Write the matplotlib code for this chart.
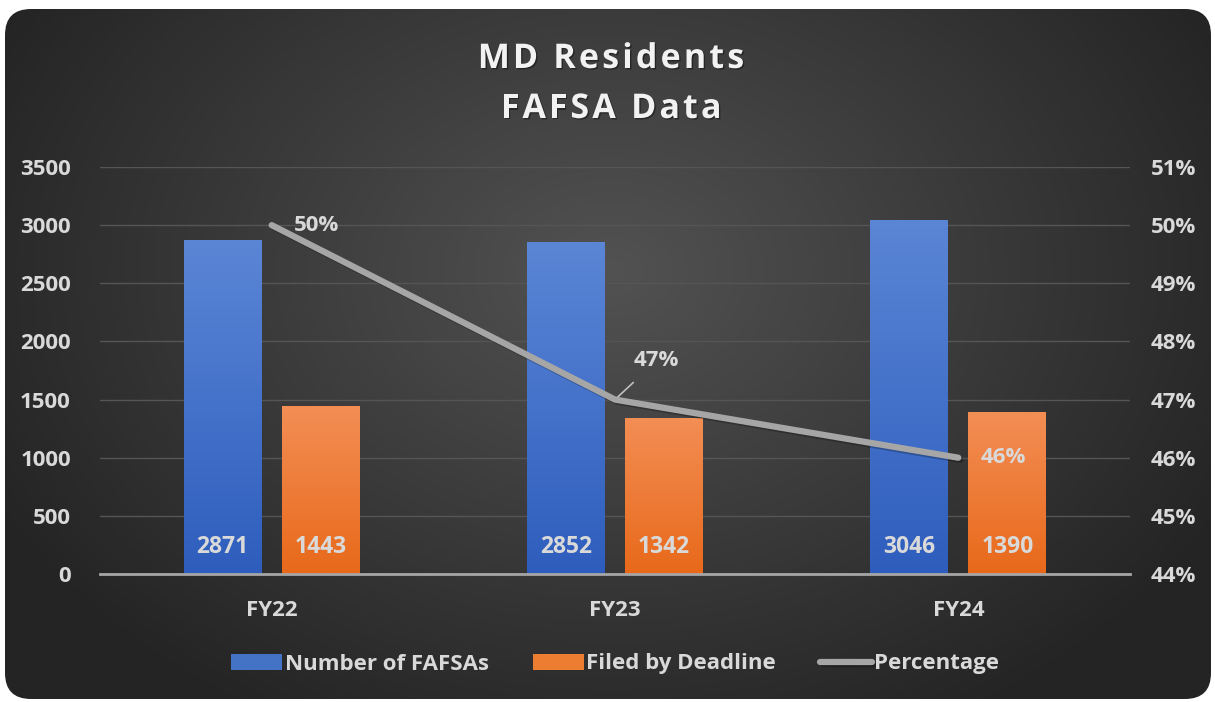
import matplotlib
matplotlib.use('Agg')
import numpy as np
import matplotlib.pyplot as plt
import matplotlib.patheffects as pe
from matplotlib.patches import FancyBboxPatch
from matplotlib.colors import LinearSegmentedColormap

categories = ['FY22', 'FY23', 'FY24']
num_fafsas = [2871, 2852, 3046]
filed_by_deadline = [1443, 1342, 1390]
percentage = [0.50, 0.47, 0.46]
pct_labels = ['50%', '47%', '46%']

plt.rcParams['font.family'] = ['Open Sans', 'DejaVu Sans']
plt.rcParams['font.weight'] = 'bold'
txt = '#d9d9d9'

W, H = 1215, 702
fig = plt.figure(figsize=(W/100, H/100), dpi=100)
fig.patch.set_facecolor('white')

# background card with radial gradient
bg = fig.add_axes([0, 0, 1, 1], zorder=-10)
bg.set_xlim(0, W); bg.set_ylim(0, H); bg.axis('off')
yy, xx = np.mgrid[0:H, 0:W]
r = np.sqrt(((xx - 610) / 700.0)**2 + ((yy - 430) / 520.0)**2)
r = np.clip(r, 0, 1)
bgcmap = LinearSegmentedColormap.from_list('bg', ['#525252', '#3b3b3b', '#242424'])
im = bg.imshow(r, cmap=bgcmap, extent=[0, W, 0, H], origin='lower', aspect='auto')
card = FancyBboxPatch((5, 3), W - 9, H - 12, boxstyle='round,pad=0,rounding_size=26',
                      transform=bg.transData, facecolor='none', edgecolor='none')
bg.add_patch(card)
im.set_clip_path(card)

ax = fig.add_axes([100/W, 1 - 574/H, 1030/W, 407/H])
ax.patch.set_alpha(0)
x = np.arange(len(categories))
bw = 0.227
off = 0.143

blue_cmap = LinearSegmentedColormap.from_list('b', ['#2e5dbd', '#5b86d6'])
orange_cmap = LinearSegmentedColormap.from_list('o', ['#e8691a', '#f38e55'])
grad = np.linspace(0, 1, 256).reshape(-1, 1)

def gradient_bars(xs, vals, cmap, label, color):
    bars = ax.bar(xs, vals, width=bw, color=color, label=label, zorder=3)
    for b in bars:
        x0, y0 = b.get_x(), b.get_y()
        gi = ax.imshow(grad, cmap=cmap, origin='lower', aspect='auto',
                       extent=[x0, x0 + b.get_width(), y0, y0 + b.get_height()], zorder=3.1)
        gi.set_clip_path(b)
    return bars

b1 = gradient_bars(x - off, num_fafsas, blue_cmap, 'Number of FAFSAs', '#4472c4')
b2 = gradient_bars(x + off, filed_by_deadline, orange_cmap, 'Filed by Deadline', '#ed7d31')

for bars, vals in [(b1, num_fafsas), (b2, filed_by_deadline)]:
    for b, v in zip(bars, vals):
        ax.text(b.get_x() + b.get_width()/2, 230, str(v), ha='center', va='center',
                color=txt, fontsize=16.5, fontweight='bold', zorder=5)

ax.set_xlim(-0.5, 2.5)
ax.set_ylim(0, 3500)
ax.set_yticks(np.arange(0, 3501, 500))
ax.set_xticks(x)
ax.set_xticklabels(categories)
ax.grid(axis='y', color='#555555', linewidth=1, zorder=0)
for s in ['top', 'right', 'left']:
    ax.spines[s].set_visible(False)
ax.spines['bottom'].set_color('#a6a6a6')
ax.spines['bottom'].set_linewidth(2)
ax.spines['bottom'].set_zorder(4)
ax.tick_params(axis='both', length=0, colors=txt, labelsize=16)
ax.tick_params(axis='y', pad=21)
ax.tick_params(axis='x', pad=19)

ax2 = ax.twinx()
ax2.set_ylim(0.44, 0.51)
ax2.set_yticks(np.arange(0.44, 0.5101, 0.01))
ax2.set_yticklabels([f'{int(round(v*100))}%' for v in np.arange(0.44, 0.5101, 0.01)])
for s in ax2.spines.values():
    s.set_visible(False)
ax2.tick_params(axis='y', length=0, colors=txt, labelsize=16, pad=15)
line, = ax2.plot(x, percentage, color='#a6a6a6', linewidth=4.5,
                 solid_capstyle='round', solid_joinstyle='round', label='Percentage', zorder=6,
                 path_effects=[pe.SimpleLineShadow(offset=(1.5, -1.5), shadow_color='black', alpha=0.25),
                               pe.Normal()])

ax2.annotate(pct_labels[0], (x[0], percentage[0]), xytext=(16, 0), textcoords='offset points',
             ha='left', va='center', color=txt, fontsize=16, fontweight='bold')
ax2.annotate(pct_labels[1], (x[1], percentage[1]), xytext=(30, 28), textcoords='offset points',
             ha='center', va='center', color=txt, fontsize=16, fontweight='bold',
             arrowprops=dict(arrowstyle='-', color='#bfbfbf', lw=1.2, shrinkA=9, shrinkB=0))
ax2.annotate(pct_labels[2], (x[2], percentage[2]), xytext=(16, 0), textcoords='offset points',
             ha='left', va='center', color=txt, fontsize=16, fontweight='bold')

handles = [b1, b2, line]
leg = fig.legend(handles, [h.get_label() for h in handles], loc='center',
                 bbox_to_anchor=(615/W, 1 - 664/H), ncol=3, frameon=False,
                 fontsize=16, labelcolor=txt, handlelength=2.3, handleheight=0.7,
                 handletextpad=0.1, columnspacing=2.0)

# title with letter spacing
renderer = fig.canvas.get_renderer()
def spaced_text(s, cx, cy, size, track):
    probe = fig.text(0, 0, '', fontsize=size, fontweight='bold')
    lefts = []
    for i in range(len(s)):
        probe.set_text(s[:i] if i else '')
        w = probe.get_window_extent(renderer).width if i else 0.0
        lefts.append(w + track * i)
    probe.set_text(s)
    total = probe.get_window_extent(renderer).width + track * (len(s) - 1)
    probe.remove()
    x0 = cx - total / 2
    for ch, l in zip(s, lefts):
        if ch == ' ':
            continue
        fig.text((x0 + l) / W, cy / H, ch, ha='left', va='center', fontsize=size,
                 fontweight='bold', color='#f2f2f2',
                 path_effects=[pe.withSimplePatchShadow(offset=(1, -1), shadow_rgbFace='black', alpha=0.4)])

spaced_text('MD Residents', 611, H - 59, 24.5, 3.2)
spaced_text('FAFSA Data', 611, H - 109, 24.5, 3.2)

fig.savefig('out.png', dpi=100, facecolor=fig.get_facecolor())
print('Done')
